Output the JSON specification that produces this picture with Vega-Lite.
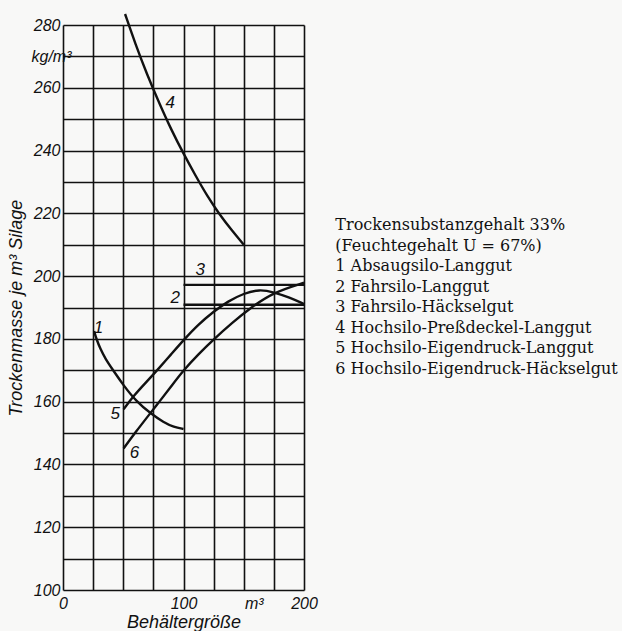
{
  "$schema": "https://vega.github.io/schema/vega-lite/v6.json",
  "width": 241,
  "height": 565,
  "autosize": {"type": "none"},
  "padding": {"left": 63, "top": 25, "right": 318, "bottom": 41},
  "background": "#f8f8f7",
  "config": {
    "view": {"stroke": null},
    "axis": {
      "domain": false, "ticks": false,
      "grid": true, "gridColor": "#111", "gridWidth": 1.6, "gridOpacity": 1,
      "labelFont": "Liberation Sans", "labelFontStyle": "italic", "labelFontSize": 16, "labelColor": "#111",
      "titleFont": "Liberation Sans", "titleFontStyle": "italic", "titleFontWeight": "normal", "titleFontSize": 18, "titleColor": "#111"
    }
  },
  "layer": [
    {
      "layer": [
        {
          "data": {"values": [
            {"s": "1", "x": 25.8, "y": 182.5}, {"s": "1", "x": 27.7, "y": 180}, {"s": "1", "x": 31, "y": 176.8}, {"s": "1", "x": 35, "y": 173.8}, {"s": "1", "x": 41.6, "y": 170}, {"s": "1", "x": 50, "y": 165.3}, {"s": "1", "x": 61, "y": 160}, {"s": "1", "x": 72.8, "y": 156.2}, {"s": "1", "x": 83.6, "y": 153.4}, {"s": "1", "x": 92, "y": 151.9}, {"s": "1", "x": 100, "y": 151.3},
            {"s": "2", "x": 100, "y": 190.9}, {"s": "2", "x": 200, "y": 190.9},
            {"s": "3", "x": 100, "y": 197.2}, {"s": "3", "x": 200, "y": 197.2},
            {"s": "4", "x": 51.5, "y": 283.5}, {"s": "4", "x": 60, "y": 274}, {"s": "4", "x": 70, "y": 264}, {"s": "4", "x": 80, "y": 255}, {"s": "4", "x": 90, "y": 246.5}, {"s": "4", "x": 100, "y": 239}, {"s": "4", "x": 110, "y": 232}, {"s": "4", "x": 120, "y": 225.3}, {"s": "4", "x": 130, "y": 219.6}, {"s": "4", "x": 140, "y": 214.6}, {"s": "4", "x": 150, "y": 210},
            {"s": "5", "x": 50.3, "y": 157.6}, {"s": "5", "x": 58.6, "y": 161.9}, {"s": "5", "x": 70, "y": 166.6}, {"s": "5", "x": 78.1, "y": 170}, {"s": "5", "x": 90, "y": 175.2}, {"s": "5", "x": 100, "y": 179.6}, {"s": "5", "x": 112, "y": 184.5}, {"s": "5", "x": 125, "y": 188.7}, {"s": "5", "x": 137, "y": 192}, {"s": "5", "x": 150, "y": 194.5}, {"s": "5", "x": 163, "y": 195.8}, {"s": "5", "x": 175, "y": 194.9}, {"s": "5", "x": 188, "y": 193.2}, {"s": "5", "x": 200, "y": 191.1},
            {"s": "6", "x": 50.3, "y": 145.1}, {"s": "6", "x": 60, "y": 150.2}, {"s": "6", "x": 72.8, "y": 156.5}, {"s": "6", "x": 80, "y": 160}, {"s": "6", "x": 90, "y": 165}, {"s": "6", "x": 100, "y": 170}, {"s": "6", "x": 112, "y": 175}, {"s": "6", "x": 125.5, "y": 180}, {"s": "6", "x": 140, "y": 185}, {"s": "6", "x": 156, "y": 190}, {"s": "6", "x": 175, "y": 194.9}, {"s": "6", "x": 200, "y": 197.9}
          ]},
          "mark": {"type": "line", "interpolate": "basis", "color": "#111", "strokeWidth": 2.4},
          "encoding": {
            "x": {
              "field": "x", "type": "quantitative",
              "scale": {"domain": [0, 200], "nice": false},
              "axis": {
                "values": [0, 25, 50, 75, 100, 125, 150, 175, 200],
                "labelExpr": "datum.value == 150 ? 'm³' : (datum.value % 100 == 0 ? datum.label : '')",
                "labelOffset": {"condition": {"test": "datum.value == 150", "value": 10}, "value": 0},
                "labelFlush": false,
                "labelPadding": 5,
                "title": "Behältergröße",
                "titlePadding": 2
              }
            },
            "y": {
              "field": "y", "type": "quantitative",
              "scale": {"domain": [100, 280], "nice": false, "zero": false},
              "axis": {
                "values": [100, 110, 120, 130, 140, 150, 160, 170, 180, 190, 200, 210, 220, 230, 240, 250, 260, 270, 280],
                "labelExpr": "datum.value == 270 ? 'kg/m³' : (datum.value % 20 == 0 ? datum.label : '')",
                "labelPadding": {"condition": {"test": "datum.value == 270", "value": -8}, "value": 3},
                "title": "Trockenmasse je m³ Silage",
                "titlePadding": 6
              }
            },
            "detail": {"field": "s"}
          }
        },
        {
          "data": {"values": [
            {"n": "1", "x": 29.5, "y": 183.6},
            {"n": "2", "x": 93.2, "y": 193},
            {"n": "3", "x": 113.9, "y": 202},
            {"n": "4", "x": 88.9, "y": 255},
            {"n": "5", "x": 43.3, "y": 156.2},
            {"n": "6", "x": 59.3, "y": 143.8}
          ]},
          "mark": {"type": "text", "font": "Liberation Sans", "fontStyle": "italic", "fontSize": 17, "color": "#111", "align": "center", "baseline": "middle"},
          "encoding": {
            "x": {
              "field": "x", "type": "quantitative",
              "axis": {
                "values": [0, 25, 50, 75, 100, 125, 150, 175, 200],
                "labelExpr": "datum.value == 150 ? 'm³' : (datum.value % 100 == 0 ? datum.label : '')",
                "labelOffset": {"condition": {"test": "datum.value == 150", "value": 10}, "value": 0},
                "labelFlush": false,
                "labelPadding": 5,
                "title": "Behältergröße",
                "titlePadding": 2
              }
            },
            "y": {
              "field": "y", "type": "quantitative",
              "axis": {
                "values": [100, 110, 120, 130, 140, 150, 160, 170, 180, 190, 200, 210, 220, 230, 240, 250, 260, 270, 280],
                "labelExpr": "datum.value == 270 ? 'kg/m³' : (datum.value % 20 == 0 ? datum.label : '')",
                "labelPadding": {"condition": {"test": "datum.value == 270", "value": -8}, "value": 3},
                "title": "Trockenmasse je m³ Silage",
                "titlePadding": 6
              }
            },
            "text": {"field": "n"}
          }
        }
      ]
    },
    {
      "data": {"values": [
        {"row": 1, "t": "Trockensubstanzgehalt 33%"},
        {"row": 2, "t": "(Feuchtegehalt U = 67%)"},
        {"row": 3, "t": "1 Absaugsilo-Langgut"},
        {"row": 4, "t": "2 Fahrsilo-Langgut"},
        {"row": 5, "t": "3 Fahrsilo-Häckselgut"},
        {"row": 6, "t": "4 Hochsilo-Preßdeckel-Langgut"},
        {"row": 7, "t": "5 Hochsilo-Eigendruck-Langgut"},
        {"row": 8, "t": "6 Hochsilo-Eigendruck-Häckselgut"}
      ]},
      "mark": {"type": "text", "font": "DejaVu Serif", "fontSize": 16, "color": "#111", "align": "left", "baseline": "middle"},
      "encoding": {
        "x": {
          "datum": 226,
          "axis": {
            "values": [0, 25, 50, 75, 100, 125, 150, 175, 200],
            "labelExpr": "datum.value == 150 ? 'm³' : (datum.value % 100 == 0 ? datum.label : '')",
            "labelOffset": {"condition": {"test": "datum.value == 150", "value": 10}, "value": 0},
            "labelFlush": false,
            "labelPadding": 5,
            "title": "Behältergröße",
            "titlePadding": 2
          }
        },
        "y": {"field": "row", "type": "quantitative", "scale": {"domain": [1, 8], "range": [200, 344]}, "axis": null},
        "text": {"field": "t"}
      }
    }
  ],
  "resolve": {"scale": {"y": "independent"}}
}
